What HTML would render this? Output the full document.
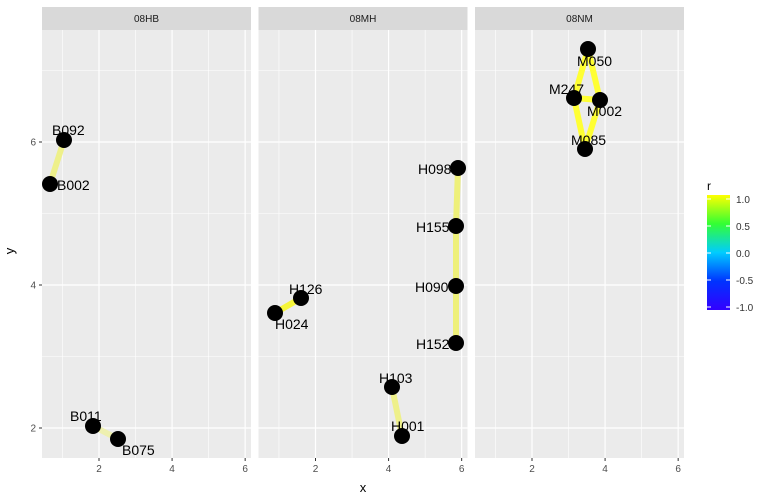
<!DOCTYPE html>
<html><head><meta charset="utf-8"><style>
html,body{margin:0;padding:0;background:#fff;}
svg{display:block;font-family:"Liberation Sans",Arial,sans-serif;}
</style></head><body>
<svg id="s" width="771" height="499" viewBox="0 0 771 499" xmlns="http://www.w3.org/2000/svg">
<defs>
<linearGradient id="g" x1="0" y1="1" x2="0" y2="0">
<stop offset="0" stop-color="#3300ff"/>
<stop offset="0.25" stop-color="#0033ff"/>
<stop offset="0.5" stop-color="#00ccff"/>
<stop offset="0.75" stop-color="#33ff33"/>
<stop offset="1" stop-color="#ffff00"/>
</linearGradient>
</defs>
<g id="panels"></g>
<g id="data"></g>
<text x="10" y="247" font-size="13" text-anchor="middle" transform="rotate(-90 14 247)">y</text>
<text x="363" y="492" font-size="13" text-anchor="middle">x</text>
<text x="707" y="190" font-size="12">r</text>
<rect x="707" y="195" width="23" height="115" fill="url(#g)"/>
<g stroke="#fff" stroke-width="1">
<line x1="707" y1="199" x2="711" y2="199"/><line x1="726" y1="199" x2="730" y2="199"/>
<line x1="707" y1="226" x2="711" y2="226"/><line x1="726" y1="226" x2="730" y2="226"/>
<line x1="707" y1="253" x2="711" y2="253"/><line x1="726" y1="253" x2="730" y2="253"/>
<line x1="707" y1="280" x2="711" y2="280"/><line x1="726" y1="280" x2="730" y2="280"/>
<line x1="707" y1="307" x2="711" y2="307"/><line x1="726" y1="307" x2="730" y2="307"/>
</g>
<g font-size="10" fill="#333">
<text x="736" y="203">1.0</text>
<text x="736" y="230">0.5</text>
<text x="736" y="257">0.0</text>
<text x="736" y="284">-0.5</text>
<text x="736" y="311">-1.0</text>
</g>
</svg>
<script>
(function(){
var NS="http://www.w3.org/2000/svg";
function el(p,t,a,txt){var e=document.createElementNS(NS,t);for(var k in a)e.setAttribute(k,a[k]);if(txt!=null)e.textContent=txt;p.appendChild(e);return e;}
var P=document.getElementById("panels"),D=document.getElementById("data");
var lefts=[42,258.5,475],W=209,T=30,B=458;var names=["08HB","08MH","08NM"];
var ppu=36.54,x0=0.44;
function X(i,v){return lefts[i]+(v-x0)*ppu;}
function Y(v){return 142+(6-v)*71.5;}
for(var i=0;i<3;i++){
 var l=lefts[i];
 el(P,"rect",{x:l,y:7,width:W,height:23,fill:"#d9d9d9"});
 el(P,"text",{x:l+W/2,y:22,"font-size":"10","text-anchor":"middle",fill:"#1a1a1a"},names[i]);
 el(P,"rect",{x:l,y:T,width:W,height:B-T,fill:"#ebebeb"});
 [1,3,5].forEach(function(v){el(P,"line",{x1:X(i,v),x2:X(i,v),y1:T,y2:B,stroke:"#fff","stroke-width":0.6});});
 [7,5,3].forEach(function(v){el(P,"line",{x1:l,x2:l+W,y1:Y(v),y2:Y(v),stroke:"#fff","stroke-width":0.6});});
 [2,4,6].forEach(function(v){var x=X(i,v);el(P,"line",{x1:x,x2:x,y1:T,y2:B,stroke:"#fff","stroke-width":1.2});
  el(P,"line",{x1:x,x2:x,y1:B,y2:B+3,stroke:"#333","stroke-width":1});
  el(P,"text",{x:x,y:B+14,"font-size":"10","text-anchor":"middle",fill:"#4d4d4d"},v);});
 [6,4,2].forEach(function(v){el(P,"line",{x1:l,x2:l+W,y1:Y(v),y2:Y(v),stroke:"#fff","stroke-width":1.2});});
}
[6,4,2].forEach(function(v){el(P,"line",{x1:39,x2:42,y1:Y(v),y2:Y(v),stroke:"#333"});
 el(P,"text",{x:36,y:Y(v)+3.5,"font-size":"10","text-anchor":"end",fill:"#4d4d4d"},v);});
var pts={B092:[64,140],B002:[50,184],B011:[93,426],B075:[118,439],H126:[301,298],H024:[275,313],H103:[392,387],H001:[402,436],H098:[458,168],H155:[456,226],H090:[456,286],H152:[456,343],M050:[588,49],M247:[574,98],M002:[600,100],M085:[585,149]};
var lines=[["B092","B002","#eef08a"],["B011","B075","#eef0b0"],["H126","H024","#f5f53a"],["H103","H001","#eef08a"],["H098","H155","#eef07a"],["H155","H090","#eef07a"],["H090","H152","#eef07a"],["M050","M247","#ffff33"],["M050","M002","#ffff33"],["M247","M085","#ffff33"],["M002","M085","#ffff33"],["M247","M002","#ffff33"]];
lines.forEach(function(a){var p=pts[a[0]],q=pts[a[1]];el(D,"line",{x1:p[0],y1:p[1],x2:q[0],y2:q[1],stroke:a[2],"stroke-width":6});});
for(var k in pts)el(D,"circle",{cx:pts[k][0],cy:pts[k][1],r:8,fill:"#000"});
var labs=[["B092",52,135],["B002",57,190],["B011",70,421],["B075",122,455],["H126",289,294],["H024",275,329],["H103",379,383],["H001",391,431],["H098",418,174],["H155",416,232],["H090",415,292],["H152",416,349],["M050",577,66],["M247",549,94],["M002",587,116],["M085",571,145]];
labs.forEach(function(a){el(D,"text",{x:a[1],y:a[2],"font-size":"14",fill:"#000"},a[0]);});
})();
</script>
</body></html>
